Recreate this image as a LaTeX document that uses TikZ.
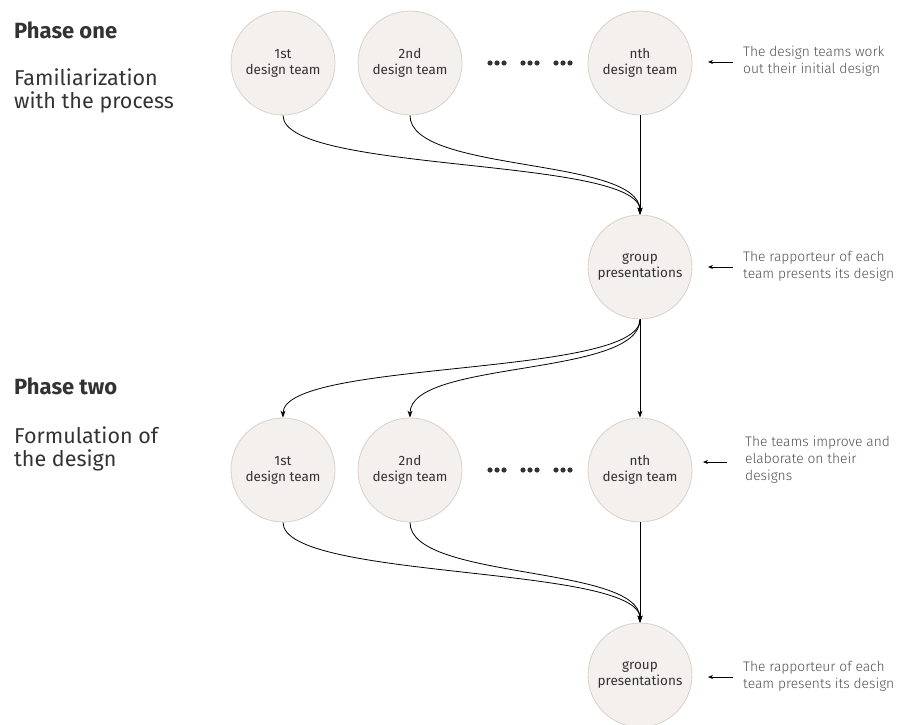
\documentclass[tikz,border=0pt]{standalone}
\usepackage{fontspec}
\setmainfont{Fira Sans}
\newfontfamily\lightfont{Fira Sans}[UprightFont={* Light}]
\usetikzlibrary{arrows.meta}
\definecolor{teamfill}{HTML}{F3F0ED}
\definecolor{teamdraw}{HTML}{D9D1C9}
\definecolor{inktext}{HTML}{333333}
\definecolor{notetext}{HTML}{505050}

\tikzset{
  team/.style={circle, fill=teamfill, draw=teamdraw, line width=0.8pt,
    minimum size=104pt, inner sep=0pt, align=center, text=inktext,
    font=\fontsize{13.5}{16}\selectfont},
  flow/.style={-{Stealth[length=7pt,width=5pt]}, line width=0.8pt},
  pointer/.style={-{Stealth[length=5pt,width=4pt]}, line width=0.7pt},
  note/.style={anchor=west, inner sep=0pt, align=left, text=notetext,
    font=\lightfont\fontsize{13.8}{17}\selectfont},
  phase/.style={anchor=west, inner sep=0pt, text=inktext,
    font=\bfseries\fontsize{22}{24}\selectfont},
  stage/.style={anchor=west, inner sep=0pt, align=left, text=inktext,
    font=\fontsize{21.5}{23}\selectfont},
}

\begin{document}
\begin{tikzpicture}[x=1pt, y=1pt]
\useasboundingbox (0,0) rectangle (903,-725);

% left column
\node[phase] (ph1) at (14,-30) {Phase one};
\node[stage] (st1) at (14,-91) {Familiarization\\with the process};
\node[phase] (ph2) at (14,-386) {Phase two};
\node[stage] (st2) at (14,-449) {Formulation of\\the design};

% phase one
\node[team] (a1) at (283,-63) {1st\\design team};
\node[team] (a2) at (410,-63) {2nd\\design team};
\node[team] (an) at (640,-63) {nth\\design team};
\node[team] (g1) at (640,-267) {group\\presentations};

% phase two
\node[team] (b1) at (283,-470) {1st\\design team};
\node[team] (b2) at (410,-470) {2nd\\design team};
\node[team] (bn) at (640,-470) {nth\\design team};
\node[team] (g2) at (640,-675) {group\\presentations};

% the dots between the teams
\foreach \y in {-63,-470}
  \foreach \gx in {497,530,563}
    \foreach \dx in {-7,0,7}
      \fill[inktext] (\gx+\dx,\y) circle (2.6pt);

% flows
\draw[flow] (a1.south) .. controls +(0,-58) and +(0,58) .. (g1.north);
\draw[flow] (a2.south) .. controls +(0,-58) and +(0,58) .. (g1.north);
\draw[flow] (an.south) -- (g1.north);

\draw[flow] (g1.south) .. controls +(0,-58) and +(0,58) .. (b1.north);
\draw[flow] (g1.south) .. controls +(0,-58) and +(0,58) .. (b2.north);
\draw[flow] (g1.south) -- (bn.north);

\draw[flow] (b1.south) .. controls +(0,-58) and +(0,58) .. (g2.north);
\draw[flow] (b2.south) .. controls +(0,-58) and +(0,58) .. (g2.north);
\draw[flow] (bn.south) -- (g2.north);

% notes on the right
\node[note] (n1) at (743,-61) {The design teams work\\out their initial design};
\node[note] (n2) at (743,-266) {The rapporteur of each\\team presents its design};
\node[note] (n3) at (745,-460) {The teams improve and\\elaborate on their\\designs};
\node[note] (n4) at (743,-676) {The rapporteur of each\\team presents its design};

\coordinate (p1) at (708,-62);
\coordinate (p2) at (708,-267);
\coordinate (p3) at (703,-462);
\coordinate (p4) at (708,-677);
\draw[pointer] (n1.west |- p1) ++(-10,0) -- (p1);
\draw[pointer] (n2.west |- p2) ++(-10,0) -- (p2);
\draw[pointer] (n3.west |- p3) ++(-18,0) -- (p3);
\draw[pointer] (n4.west |- p4) ++(-10,0) -- (p4);
\end{tikzpicture}
\end{document}
